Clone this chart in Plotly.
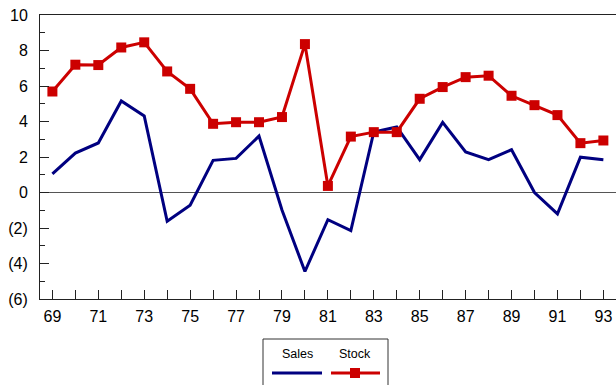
import plotly.graph_objects as go

years = list(range(69, 94))
sales = [1.05, 2.22, 2.79, 5.16, 4.31, -1.62, -0.72, 1.81, 1.92, 3.18, -0.98, -4.45,
         -1.53, -2.15, 3.41, 3.69, 1.85, 3.95, 2.28, 1.85, 2.41, 0.0, -1.2, 1.99, 1.85]
stock = [5.69, 7.2, 7.18, 8.17, 8.46, 6.82, 5.84, 3.87, 3.96, 3.96, 4.25, 8.36,
         0.37, 3.15, 3.40, 3.40, 5.28, 5.94, 6.5, 6.58, 5.45, 4.92, 4.36, 2.78, 2.93]
y_tickvals = [-6, -4, -2, 0, 2, 4, 6, 8, 10]
y_ticktext = ["(6)", "(4)", "(2)", "0", "2", "4", "6", "8", "10"]
x_tickvals = list(range(69, 94, 2))

NAVY = "#000080"
RED = "#CC0000"
FONT = "Liberation Sans, Arial, sans-serif"

W, H = 616, 385
L, R, T, B = 40, 0, 15, 86
PW, PH = W - L - R, H - T - B

def px(x):
    return (x - L) / PW

def py(y):
    return (H - B - y) / PH

fig = go.Figure()
fig.add_trace(go.Scatter(x=years, y=sales, mode="lines", name="Sales",
                         line=dict(color=NAVY, width=3), showlegend=False))
fig.add_trace(go.Scatter(x=years, y=stock, mode="lines+markers", name="Stock",
                         line=dict(color=RED, width=3),
                         marker=dict(symbol="square", size=10, color=RED),
                         showlegend=False))

shapes = [
    dict(type="rect", xref="paper", yref="paper", x0=px(263), x1=px(388), y0=py(387), y1=py(339),
         line=dict(color="#333", width=1), fillcolor="white", layer="above"),
    dict(type="line", xref="paper", yref="paper", x0=px(272), x1=px(322), y0=py(373), y1=py(373),
         line=dict(color=NAVY, width=3), layer="above"),
    dict(type="line", xref="paper", yref="paper", x0=px(331), x1=px(380), y0=py(373), y1=py(373),
         line=dict(color=RED, width=3), layer="above"),
    dict(type="rect", xref="paper", yref="paper", x0=px(350), x1=px(360), y0=py(378), y1=py(368),
         line=dict(color=RED, width=0), fillcolor=RED, layer="above"),
]
annotations = [
    dict(text="Sales", xref="paper", yref="paper", x=px(297), y=py(354), showarrow=False,
         font=dict(size=12.5, color="black", family=FONT), xanchor="center", yanchor="middle"),
    dict(text="Stock", xref="paper", yref="paper", x=px(355), y=py(354), showarrow=False,
         font=dict(size=12.5, color="black", family=FONT), xanchor="center", yanchor="middle"),
]

fig.update_layout(
    width=W, height=H,
    margin=dict(l=L, r=R, t=T, b=B, pad=0),
    paper_bgcolor="white", plot_bgcolor="white",
    font=dict(family=FONT, size=16, color="black"),
    shapes=shapes, annotations=annotations,
    xaxis=dict(range=[68.46, 93.55], tickmode="array", tickvals=x_tickvals,
               ticks="inside", ticklen=9, tickcolor="#222", showgrid=False, zeroline=False,
               showline=True, linecolor="#222", linewidth=1, mirror=True,
               ticklabelstandoff=3,
               minor=dict(tickmode="array", tickvals=[y for y in years if y % 2 == 0],
                          ticks="inside", ticklen=9, tickcolor="#222"),
               tickfont=dict(size=16)),
    yaxis=dict(range=[-6, 10], tickmode="array", tickvals=y_tickvals, ticktext=y_ticktext,
               ticks="inside", ticklen=9, tickcolor="#222", showgrid=False,
               zeroline=True, zerolinecolor="#555", zerolinewidth=1,
               showline=True, linecolor="#222", linewidth=1,
               ticklabelstandoff=8,
               minor=dict(tickmode="array", tickvals=list(range(-5, 10, 2)),
                          ticks="inside", ticklen=5, tickcolor="#222"),
               tickfont=dict(size=16)),
)

fig.write_html("out.html")
